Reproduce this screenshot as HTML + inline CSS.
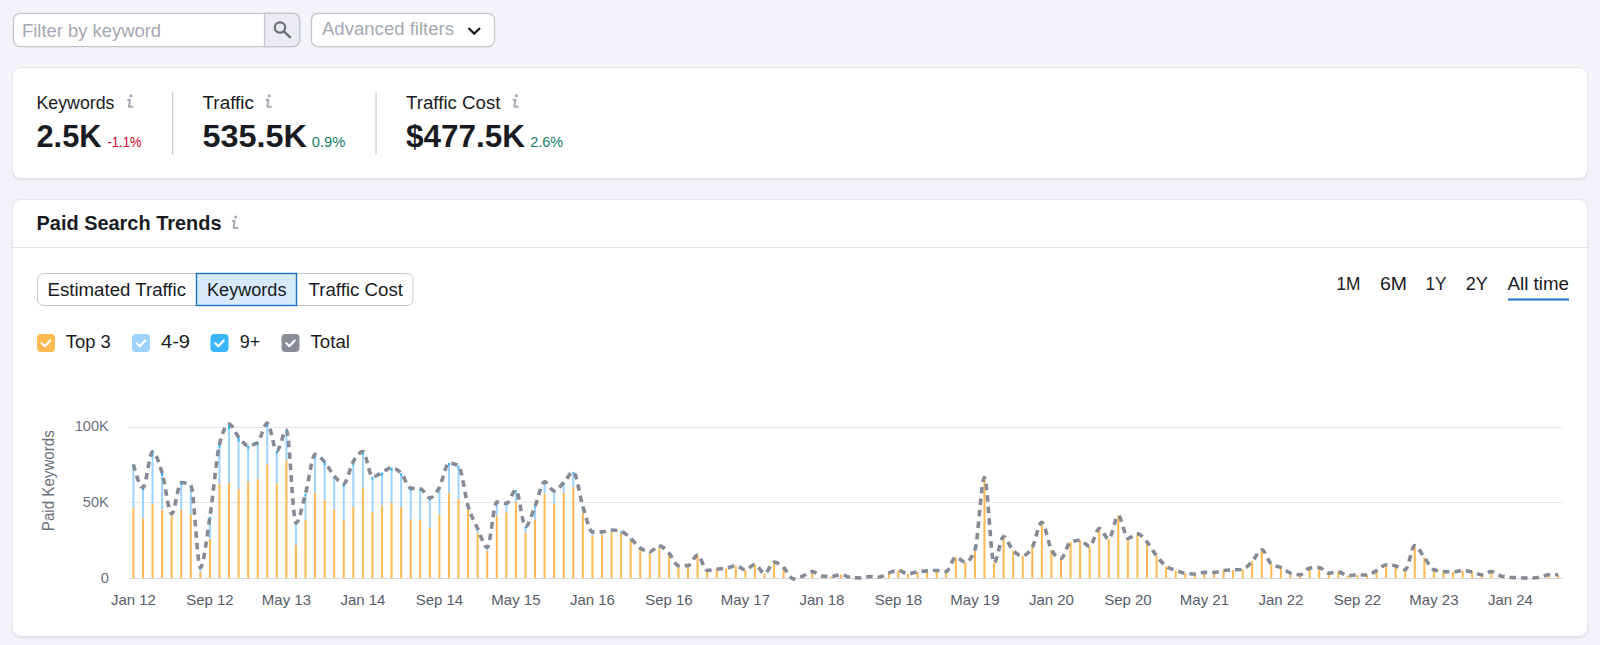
<!DOCTYPE html>
<html><head><meta charset="utf-8">
<style>
html,body{margin:0;padding:0;width:1600px;height:645px;overflow:hidden;background:#F3F4F8;font-family:"Liberation Sans",sans-serif;}
.card{position:absolute;left:12px;width:1576px;background:#fff;border-radius:9px;box-sizing:border-box;border:1px solid #E6E7EC;box-shadow:0 1px 2px rgba(25,27,35,0.10);}
</style></head><body>
<div class="card" style="top:67px;height:112px"></div>
<div class="card" style="top:199px;height:438px"></div>
<svg width="1600" height="645" style="position:absolute;left:0;top:0" font-family="Liberation Sans">
<!-- filter input -->
<rect x="13.4" y="13.3" width="286.2" height="33.4" rx="6.5" fill="#fff" stroke="#C2C5CD" stroke-width="1.25"/>
<path d="M264.5,13.3 H293.1 A6.5,6.5 0 0 1 299.6,19.8 V40.2 A6.5,6.5 0 0 1 293.1,46.7 H264.5 Z" fill="#EBECF0" stroke="#C2C5CD" stroke-width="1.25"/>
<text x="22" y="36.5" font-size="17.5" fill="#A5A8B2" textLength="139" lengthAdjust="spacingAndGlyphs">Filter by keyword</text>
<circle cx="280" cy="27.5" r="5.2" fill="none" stroke="#6C707B" stroke-width="2.2"/>
<line x1="283.8" y1="31.3" x2="290" y2="37.2" stroke="#6C707B" stroke-width="2.4" stroke-linecap="round"/>
<!-- advanced filters -->
<rect x="311.5" y="13.3" width="183" height="33.4" rx="6.5" fill="#fff" stroke="#C2C5CD" stroke-width="1.25"/>
<text x="322" y="35" font-size="17.5" fill="#A5A8B2" textLength="132" lengthAdjust="spacingAndGlyphs">Advanced filters</text>
<path d="M468.5,28 L474.2,33.6 L480,28" fill="none" stroke="#191B23" stroke-width="2.2"/>

<!-- card 1 -->
<text x="36.5" y="109" font-size="17.5" fill="#191B23" textLength="78" lengthAdjust="spacingAndGlyphs">Keywords</text>
<defs><g id="ic"><path d="M0,0 H2.7 L1.7,7 H6.1" fill="none" stroke="#A6A9B3" stroke-width="2" stroke-linejoin="round"/><circle cx="3.7" cy="-3.9" r="1.6" fill="#A6A9B3"/></g></defs>
<use href="#ic" x="127.2" y="99.7"/><use href="#ic" x="265.6" y="99.7"/><use href="#ic" x="512.7" y="99.7"/><use href="#ic" x="231.9" y="220.9"/>
<text x="36.5" y="147.3" font-size="31.5" font-weight="700" fill="#191B23" textLength="65" lengthAdjust="spacingAndGlyphs">2.5K</text>
<text x="107.5" y="147.3" font-size="15" fill="#D1002F" textLength="34" lengthAdjust="spacingAndGlyphs">-1.1%</text>
<rect x="172" y="92" width="1.2" height="62.5" fill="#C5C8D0"/>
<text x="202.5" y="109" font-size="17.5" fill="#191B23" textLength="51.5" lengthAdjust="spacingAndGlyphs">Traffic</text>
<text x="202.5" y="147.3" font-size="31.5" font-weight="700" fill="#191B23" textLength="104.5" lengthAdjust="spacingAndGlyphs">535.5K</text>
<text x="311.8" y="147.3" font-size="15" fill="#137F68" textLength="33.5" lengthAdjust="spacingAndGlyphs">0.9%</text>
<rect x="375.5" y="92" width="1.2" height="62.5" fill="#C5C8D0"/>
<text x="406" y="109" font-size="17.5" fill="#191B23" textLength="94.5" lengthAdjust="spacingAndGlyphs">Traffic Cost</text>
<text x="406" y="147.3" font-size="31.5" font-weight="700" fill="#191B23" textLength="119" lengthAdjust="spacingAndGlyphs">$477.5K</text>
<text x="530.2" y="147.3" font-size="15" fill="#137F68" textLength="33" lengthAdjust="spacingAndGlyphs">2.6%</text>

<!-- card 2 header -->
<text x="36.5" y="229.8" font-size="20" font-weight="700" fill="#191B23" textLength="185" lengthAdjust="spacingAndGlyphs">Paid Search Trends</text>
<rect x="12" y="247" width="1576" height="1" fill="#E3E4E9"/>

<!-- segmented control -->
<rect x="37.5" y="273.5" width="375.5" height="32" rx="6" fill="#fff" stroke="#C5C8D0"/>
<rect x="196.5" y="273.5" width="100" height="32" fill="#D7EAFB" stroke="#1D71C9" stroke-width="1.4"/>
<text x="47.5" y="295.5" font-size="17.5" fill="#191B23" textLength="138.5" lengthAdjust="spacingAndGlyphs">Estimated Traffic</text>
<text x="207" y="295.5" font-size="17.5" fill="#191B23" textLength="79.5" lengthAdjust="spacingAndGlyphs">Keywords</text>
<text x="308.5" y="295.5" font-size="17.5" fill="#191B23" textLength="94.5" lengthAdjust="spacingAndGlyphs">Traffic Cost</text>

<!-- legend -->
<g>
<rect x="37" y="334" width="18" height="18" rx="4" fill="#FFBA52"/>
<rect x="132" y="334" width="18" height="18" rx="4" fill="#9ED3FF"/>
<rect x="210.5" y="334" width="18" height="18" rx="4" fill="#3AB6FF"/>
<rect x="281.5" y="334" width="18" height="18" rx="4" fill="#898D98"/>
<g fill="none" stroke="#fff" stroke-width="2.2" stroke-linecap="round" stroke-linejoin="round">
<path d="M41.8,343.2 L44.8,346.2 L50.2,340.6"/>
<path d="M136.8,343.2 L139.8,346.2 L145.2,340.6"/>
<path d="M215.3,343.2 L218.3,346.2 L223.7,340.6"/>
<path d="M286.3,343.2 L289.3,346.2 L294.7,340.6"/>
</g>
</g>
<text x="65.8" y="347.6" font-size="17.5" fill="#191B23" textLength="45" lengthAdjust="spacingAndGlyphs">Top 3</text>
<text x="161" y="347.6" font-size="17.5" fill="#191B23" textLength="29" lengthAdjust="spacingAndGlyphs">4-9</text>
<text x="239.8" y="347.6" font-size="17.5" fill="#191B23" textLength="20.5" lengthAdjust="spacingAndGlyphs">9+</text>
<text x="310.5" y="347.6" font-size="17.5" fill="#191B23" textLength="39.5" lengthAdjust="spacingAndGlyphs">Total</text>

<!-- time range -->
<g font-size="17.5" fill="#191B23">
<text x="1336.5" y="289.9" textLength="24" lengthAdjust="spacingAndGlyphs">1M</text>
<text x="1380" y="289.9" textLength="27" lengthAdjust="spacingAndGlyphs">6M</text>
<text x="1425.5" y="289.9" textLength="21" lengthAdjust="spacingAndGlyphs">1Y</text>
<text x="1465.8" y="289.9" textLength="22" lengthAdjust="spacingAndGlyphs">2Y</text>
<text x="1507.5" y="289.9" textLength="61.5" lengthAdjust="spacingAndGlyphs">All time</text>
</g>
<rect x="1508" y="298.5" width="61" height="2" fill="#1D71C9"/>
</svg>
<svg width="1600" height="645" style="position:absolute;left:0;top:0">
<g stroke-width="1" shape-rendering="crispEdges">
<line x1="129" y1="427.5" x2="1563" y2="427.5" stroke="#E6E7EC"/>
<line x1="129" y1="502.5" x2="1563" y2="502.5" stroke="#E6E7EC"/>
<line x1="129" y1="578.5" x2="1563" y2="578.5" stroke="#D5D8DF"/>
</g>
<g font-family="Liberation Sans" font-size="14.6" fill="#6B6F7B" text-anchor="end">
<text x="108.8" y="431">100K</text><text x="108.8" y="507">50K</text><text x="108.8" y="583">0</text>
</g>
<text transform="translate(53.6,480.7) rotate(-90)" text-anchor="middle" font-family="Liberation Sans" font-size="15.6" fill="#6B6F7B" textLength="101" lengthAdjust="spacingAndGlyphs">Paid Keywords</text>
<g font-family="Liberation Sans" font-size="15" fill="#575C69"><text x="133.40" y="605" text-anchor="middle">Jan 12</text><text x="209.90" y="605" text-anchor="middle">Sep 12</text><text x="286.40" y="605" text-anchor="middle">May 13</text><text x="362.90" y="605" text-anchor="middle">Jan 14</text><text x="439.40" y="605" text-anchor="middle">Sep 14</text><text x="515.90" y="605" text-anchor="middle">May 15</text><text x="592.40" y="605" text-anchor="middle">Jan 16</text><text x="668.90" y="605" text-anchor="middle">Sep 16</text><text x="745.40" y="605" text-anchor="middle">May 17</text><text x="821.90" y="605" text-anchor="middle">Jan 18</text><text x="898.40" y="605" text-anchor="middle">Sep 18</text><text x="974.90" y="605" text-anchor="middle">May 19</text><text x="1051.40" y="605" text-anchor="middle">Jan 20</text><text x="1127.90" y="605" text-anchor="middle">Sep 20</text><text x="1204.40" y="605" text-anchor="middle">May 21</text><text x="1280.90" y="605" text-anchor="middle">Jan 22</text><text x="1357.40" y="605" text-anchor="middle">Sep 22</text><text x="1433.90" y="605" text-anchor="middle">May 23</text><text x="1510.40" y="605" text-anchor="middle">Jan 24</text></g>
<g><rect x="132.40" y="507.63" width="2" height="70.37" fill="#FDB94F"/><rect x="132.40" y="468.28" width="2" height="39.34" fill="#9FD3FF"/><rect x="132.40" y="464.39" width="2" height="3.89" fill="#2BB3FF"/><rect x="141.96" y="518.23" width="2" height="59.77" fill="#FDB94F"/><rect x="141.96" y="490.31" width="2" height="27.92" fill="#9FD3FF"/><rect x="141.96" y="487.55" width="2" height="2.76" fill="#2BB3FF"/><rect x="151.53" y="504.00" width="2" height="74.00" fill="#FDB94F"/><rect x="151.53" y="456.54" width="2" height="47.47" fill="#9FD3FF"/><rect x="151.53" y="451.84" width="2" height="4.69" fill="#2BB3FF"/><rect x="161.09" y="509.58" width="2" height="68.42" fill="#FDB94F"/><rect x="161.09" y="476.08" width="2" height="33.51" fill="#9FD3FF"/><rect x="161.09" y="472.76" width="2" height="3.31" fill="#2BB3FF"/><rect x="170.65" y="515.44" width="2" height="62.56" fill="#FDB94F"/><rect x="170.65" y="515.27" width="2" height="0.17" fill="#9FD3FF"/><rect x="170.65" y="513.77" width="2" height="1.50" fill="#2BB3FF"/><rect x="180.21" y="509.86" width="2" height="68.14" fill="#FDB94F"/><rect x="180.21" y="484.98" width="2" height="24.88" fill="#9FD3FF"/><rect x="180.21" y="482.52" width="2" height="2.46" fill="#2BB3FF"/><rect x="189.78" y="514.32" width="2" height="63.68" fill="#FDB94F"/><rect x="189.78" y="487.92" width="2" height="26.40" fill="#9FD3FF"/><rect x="189.78" y="485.31" width="2" height="2.61" fill="#2BB3FF"/><rect x="199.34" y="571.79" width="2" height="6.21" fill="#FDB94F"/><rect x="199.34" y="569.10" width="2" height="2.68" fill="#9FD3FF"/><rect x="199.34" y="567.60" width="2" height="1.50" fill="#2BB3FF"/><rect x="208.90" y="538.87" width="2" height="39.13" fill="#FDB94F"/><rect x="208.90" y="518.82" width="2" height="20.05" fill="#9FD3FF"/><rect x="208.90" y="516.83" width="2" height="1.98" fill="#2BB3FF"/><rect x="218.46" y="483.92" width="2" height="94.08" fill="#FDB94F"/><rect x="218.46" y="448.23" width="2" height="35.69" fill="#9FD3FF"/><rect x="218.46" y="444.70" width="2" height="3.53" fill="#2BB3FF"/><rect x="228.03" y="482.52" width="2" height="95.48" fill="#FDB94F"/><rect x="228.03" y="429.36" width="2" height="53.17" fill="#9FD3FF"/><rect x="228.03" y="424.10" width="2" height="5.26" fill="#2BB3FF"/><rect x="237.59" y="488.94" width="2" height="89.06" fill="#FDB94F"/><rect x="237.59" y="441.86" width="2" height="47.08" fill="#9FD3FF"/><rect x="237.59" y="437.20" width="2" height="4.66" fill="#2BB3FF"/><rect x="247.15" y="481.97" width="2" height="96.03" fill="#FDB94F"/><rect x="247.15" y="448.96" width="2" height="33.00" fill="#9FD3FF"/><rect x="247.15" y="445.70" width="2" height="3.26" fill="#2BB3FF"/><rect x="256.71" y="478.90" width="2" height="99.10" fill="#FDB94F"/><rect x="256.71" y="445.50" width="2" height="33.40" fill="#9FD3FF"/><rect x="256.71" y="442.20" width="2" height="3.30" fill="#2BB3FF"/><rect x="266.27" y="464.39" width="2" height="113.61" fill="#FDB94F"/><rect x="266.27" y="426.82" width="2" height="37.58" fill="#9FD3FF"/><rect x="266.27" y="423.10" width="2" height="3.72" fill="#2BB3FF"/><rect x="275.84" y="483.36" width="2" height="94.64" fill="#FDB94F"/><rect x="275.84" y="453.73" width="2" height="29.63" fill="#9FD3FF"/><rect x="275.84" y="450.80" width="2" height="2.93" fill="#2BB3FF"/><rect x="285.40" y="460.21" width="2" height="117.79" fill="#FDB94F"/><rect x="285.40" y="432.81" width="2" height="27.40" fill="#9FD3FF"/><rect x="285.40" y="430.10" width="2" height="2.71" fill="#2BB3FF"/><rect x="294.96" y="544.73" width="2" height="33.27" fill="#FDB94F"/><rect x="294.96" y="524.93" width="2" height="19.80" fill="#9FD3FF"/><rect x="294.96" y="522.97" width="2" height="1.96" fill="#2BB3FF"/><rect x="304.52" y="519.62" width="2" height="58.38" fill="#FDB94F"/><rect x="304.52" y="496.02" width="2" height="23.61" fill="#9FD3FF"/><rect x="304.52" y="493.68" width="2" height="2.33" fill="#2BB3FF"/><rect x="314.09" y="492.85" width="2" height="85.15" fill="#FDB94F"/><rect x="314.09" y="457.86" width="2" height="34.99" fill="#9FD3FF"/><rect x="314.09" y="454.40" width="2" height="3.46" fill="#2BB3FF"/><rect x="323.65" y="499.82" width="2" height="78.18" fill="#FDB94F"/><rect x="323.65" y="465.49" width="2" height="34.32" fill="#9FD3FF"/><rect x="323.65" y="462.10" width="2" height="3.39" fill="#2BB3FF"/><rect x="333.21" y="509.02" width="2" height="68.98" fill="#FDB94F"/><rect x="333.21" y="478.97" width="2" height="30.05" fill="#9FD3FF"/><rect x="333.21" y="476.00" width="2" height="2.97" fill="#2BB3FF"/><rect x="342.77" y="520.18" width="2" height="57.82" fill="#FDB94F"/><rect x="342.77" y="486.98" width="2" height="33.20" fill="#9FD3FF"/><rect x="342.77" y="483.70" width="2" height="3.28" fill="#2BB3FF"/><rect x="352.34" y="507.07" width="2" height="70.93" fill="#FDB94F"/><rect x="352.34" y="465.51" width="2" height="41.56" fill="#9FD3FF"/><rect x="352.34" y="461.40" width="2" height="4.11" fill="#2BB3FF"/><rect x="361.90" y="487.55" width="2" height="90.45" fill="#FDB94F"/><rect x="361.90" y="454.84" width="2" height="32.71" fill="#9FD3FF"/><rect x="361.90" y="451.60" width="2" height="3.24" fill="#2BB3FF"/><rect x="371.46" y="511.81" width="2" height="66.19" fill="#FDB94F"/><rect x="371.46" y="479.86" width="2" height="31.95" fill="#9FD3FF"/><rect x="371.46" y="476.70" width="2" height="3.16" fill="#2BB3FF"/><rect x="381.02" y="505.40" width="2" height="72.60" fill="#FDB94F"/><rect x="381.02" y="475.55" width="2" height="29.85" fill="#9FD3FF"/><rect x="381.02" y="472.60" width="2" height="2.95" fill="#2BB3FF"/><rect x="390.59" y="502.89" width="2" height="75.11" fill="#FDB94F"/><rect x="390.59" y="470.87" width="2" height="32.02" fill="#9FD3FF"/><rect x="390.59" y="467.70" width="2" height="3.17" fill="#2BB3FF"/><rect x="400.15" y="507.07" width="2" height="70.93" fill="#FDB94F"/><rect x="400.15" y="476.34" width="2" height="30.73" fill="#9FD3FF"/><rect x="400.15" y="473.30" width="2" height="3.04" fill="#2BB3FF"/><rect x="409.71" y="519.34" width="2" height="58.66" fill="#FDB94F"/><rect x="409.71" y="490.91" width="2" height="28.43" fill="#9FD3FF"/><rect x="409.71" y="488.10" width="2" height="2.81" fill="#2BB3FF"/><rect x="419.27" y="519.62" width="2" height="58.38" fill="#FDB94F"/><rect x="419.27" y="491.57" width="2" height="28.05" fill="#9FD3FF"/><rect x="419.27" y="488.80" width="2" height="2.77" fill="#2BB3FF"/><rect x="428.84" y="527.71" width="2" height="50.29" fill="#FDB94F"/><rect x="428.84" y="500.58" width="2" height="27.13" fill="#9FD3FF"/><rect x="428.84" y="497.90" width="2" height="2.68" fill="#2BB3FF"/><rect x="438.40" y="514.60" width="2" height="63.40" fill="#FDB94F"/><rect x="438.40" y="489.85" width="2" height="24.75" fill="#9FD3FF"/><rect x="438.40" y="487.40" width="2" height="2.45" fill="#2BB3FF"/><rect x="447.96" y="492.85" width="2" height="85.15" fill="#FDB94F"/><rect x="447.96" y="465.69" width="2" height="27.16" fill="#9FD3FF"/><rect x="447.96" y="463.00" width="2" height="2.69" fill="#2BB3FF"/><rect x="457.52" y="498.70" width="2" height="79.30" fill="#FDB94F"/><rect x="457.52" y="468.76" width="2" height="29.94" fill="#9FD3FF"/><rect x="457.52" y="465.80" width="2" height="2.96" fill="#2BB3FF"/><rect x="467.09" y="508.40" width="2" height="69.60" fill="#FDB94F"/><rect x="467.09" y="507.80" width="2" height="0.60" fill="#9FD3FF"/><rect x="467.09" y="506.30" width="2" height="1.50" fill="#2BB3FF"/><rect x="476.65" y="532.73" width="2" height="45.27" fill="#FDB94F"/><rect x="476.65" y="530.05" width="2" height="2.68" fill="#9FD3FF"/><rect x="476.65" y="528.55" width="2" height="1.50" fill="#2BB3FF"/><rect x="486.21" y="550.86" width="2" height="27.14" fill="#FDB94F"/><rect x="486.21" y="549.02" width="2" height="1.85" fill="#9FD3FF"/><rect x="486.21" y="547.52" width="2" height="1.50" fill="#2BB3FF"/><rect x="495.77" y="515.44" width="2" height="62.56" fill="#FDB94F"/><rect x="495.77" y="503.60" width="2" height="11.84" fill="#9FD3FF"/><rect x="495.77" y="502.10" width="2" height="1.50" fill="#2BB3FF"/><rect x="505.34" y="512.37" width="2" height="65.63" fill="#FDB94F"/><rect x="505.34" y="505.00" width="2" height="7.37" fill="#9FD3FF"/><rect x="505.34" y="503.50" width="2" height="1.50" fill="#2BB3FF"/><rect x="514.90" y="502.05" width="2" height="75.95" fill="#FDB94F"/><rect x="514.90" y="491.70" width="2" height="10.35" fill="#9FD3FF"/><rect x="514.90" y="490.20" width="2" height="1.50" fill="#2BB3FF"/><rect x="524.46" y="532.73" width="2" height="45.27" fill="#FDB94F"/><rect x="524.46" y="528.10" width="2" height="4.64" fill="#9FD3FF"/><rect x="524.46" y="526.60" width="2" height="1.50" fill="#2BB3FF"/><rect x="534.02" y="519.34" width="2" height="58.66" fill="#FDB94F"/><rect x="534.02" y="507.73" width="2" height="11.61" fill="#9FD3FF"/><rect x="534.02" y="506.23" width="2" height="1.50" fill="#2BB3FF"/><rect x="543.59" y="493.68" width="2" height="84.32" fill="#FDB94F"/><rect x="543.59" y="483.40" width="2" height="10.28" fill="#9FD3FF"/><rect x="543.59" y="481.90" width="2" height="1.50" fill="#2BB3FF"/><rect x="553.15" y="504.00" width="2" height="74.00" fill="#FDB94F"/><rect x="553.15" y="492.39" width="2" height="11.61" fill="#9FD3FF"/><rect x="553.15" y="490.89" width="2" height="1.50" fill="#2BB3FF"/><rect x="562.71" y="492.85" width="2" height="85.15" fill="#FDB94F"/><rect x="562.71" y="484.10" width="2" height="8.75" fill="#9FD3FF"/><rect x="562.71" y="482.60" width="2" height="1.50" fill="#2BB3FF"/><rect x="572.27" y="486.71" width="2" height="91.29" fill="#FDB94F"/><rect x="572.27" y="473.42" width="2" height="13.28" fill="#9FD3FF"/><rect x="572.27" y="471.92" width="2" height="1.50" fill="#2BB3FF"/><rect x="581.84" y="512.65" width="2" height="65.35" fill="#FDB94F"/><rect x="581.84" y="507.73" width="2" height="4.92" fill="#9FD3FF"/><rect x="581.84" y="506.23" width="2" height="1.50" fill="#2BB3FF"/><rect x="591.40" y="535.52" width="2" height="42.48" fill="#FDB94F"/><rect x="591.40" y="533.40" width="2" height="2.13" fill="#9FD3FF"/><rect x="591.40" y="531.90" width="2" height="1.50" fill="#2BB3FF"/><rect x="600.96" y="534.69" width="2" height="43.31" fill="#FDB94F"/><rect x="600.96" y="533.40" width="2" height="1.29" fill="#9FD3FF"/><rect x="600.96" y="531.90" width="2" height="1.50" fill="#2BB3FF"/><rect x="610.52" y="531.90" width="2" height="46.10" fill="#FDB94F"/><rect x="610.52" y="531.44" width="2" height="0.45" fill="#9FD3FF"/><rect x="610.52" y="529.94" width="2" height="1.50" fill="#2BB3FF"/><rect x="620.09" y="532.73" width="2" height="45.27" fill="#FDB94F"/><rect x="620.09" y="532.84" width="2" height="-0.11" fill="#9FD3FF"/><rect x="620.09" y="531.34" width="2" height="1.50" fill="#2BB3FF"/><rect x="629.65" y="539.71" width="2" height="38.29" fill="#FDB94F"/><rect x="629.65" y="539.81" width="2" height="-0.11" fill="#9FD3FF"/><rect x="629.65" y="538.31" width="2" height="1.50" fill="#2BB3FF"/><rect x="639.21" y="549.47" width="2" height="28.53" fill="#FDB94F"/><rect x="639.21" y="549.58" width="2" height="-0.11" fill="#9FD3FF"/><rect x="639.21" y="548.08" width="2" height="1.50" fill="#2BB3FF"/><rect x="648.77" y="552.26" width="2" height="25.74" fill="#FDB94F"/><rect x="648.77" y="553.20" width="2" height="-0.94" fill="#9FD3FF"/><rect x="648.77" y="551.70" width="2" height="1.50" fill="#2BB3FF"/><rect x="658.34" y="546.68" width="2" height="31.32" fill="#FDB94F"/><rect x="658.34" y="547.34" width="2" height="-0.66" fill="#9FD3FF"/><rect x="658.34" y="545.84" width="2" height="1.50" fill="#2BB3FF"/><rect x="667.90" y="553.65" width="2" height="24.35" fill="#FDB94F"/><rect x="667.90" y="554.60" width="2" height="-0.94" fill="#9FD3FF"/><rect x="667.90" y="553.10" width="2" height="1.50" fill="#2BB3FF"/><rect x="677.46" y="567.04" width="2" height="10.96" fill="#FDB94F"/><rect x="677.46" y="567.15" width="2" height="-0.11" fill="#9FD3FF"/><rect x="677.46" y="565.65" width="2" height="1.50" fill="#2BB3FF"/><rect x="687.02" y="566.21" width="2" height="11.79" fill="#FDB94F"/><rect x="687.02" y="567.15" width="2" height="-0.94" fill="#9FD3FF"/><rect x="687.02" y="565.65" width="2" height="1.50" fill="#2BB3FF"/><rect x="696.59" y="555.13" width="2" height="22.87" fill="#FDB94F"/><rect x="706.15" y="570.48" width="2" height="7.52" fill="#FDB94F"/><rect x="715.71" y="569.09" width="2" height="8.91" fill="#FDB94F"/><rect x="725.27" y="568.39" width="2" height="9.61" fill="#FDB94F"/><rect x="734.84" y="565.60" width="2" height="12.40" fill="#FDB94F"/><rect x="744.40" y="569.78" width="2" height="8.22" fill="#FDB94F"/><rect x="753.96" y="564.48" width="2" height="13.52" fill="#FDB94F"/><rect x="763.52" y="573.55" width="2" height="4.45" fill="#FDB94F"/><rect x="773.09" y="562.11" width="2" height="15.89" fill="#FDB94F"/><rect x="782.65" y="567.69" width="2" height="10.31" fill="#FDB94F"/><rect x="801.77" y="576.06" width="2" height="1.94" fill="#FDB94F"/><rect x="811.34" y="571.60" width="2" height="6.40" fill="#FDB94F"/><rect x="820.90" y="576.06" width="2" height="1.94" fill="#FDB94F"/><rect x="830.46" y="576.48" width="2" height="1.52" fill="#FDB94F"/><rect x="840.02" y="574.67" width="2" height="3.33" fill="#FDB94F"/><rect x="849.59" y="577.46" width="2" height="0.54" fill="#FDB94F"/><rect x="868.71" y="576.48" width="2" height="1.52" fill="#FDB94F"/><rect x="878.27" y="577.04" width="2" height="0.96" fill="#FDB94F"/><rect x="887.84" y="572.90" width="2" height="5.10" fill="#FDB94F"/><rect x="897.40" y="570.48" width="2" height="7.52" fill="#FDB94F"/><rect x="906.96" y="573.91" width="2" height="4.09" fill="#FDB94F"/><rect x="916.52" y="571.90" width="2" height="6.10" fill="#FDB94F"/><rect x="926.09" y="570.89" width="2" height="7.11" fill="#FDB94F"/><rect x="935.65" y="570.48" width="2" height="7.52" fill="#FDB94F"/><rect x="945.21" y="571.49" width="2" height="6.51" fill="#FDB94F"/><rect x="954.77" y="557.18" width="2" height="20.82" fill="#FDB94F"/><rect x="964.34" y="562.22" width="2" height="15.78" fill="#FDB94F"/><rect x="973.90" y="550.12" width="2" height="27.88" fill="#FDB94F"/><rect x="983.46" y="477.54" width="2" height="100.46" fill="#FDB94F"/><rect x="993.02" y="562.82" width="2" height="15.18" fill="#FDB94F"/><rect x="1002.59" y="536.60" width="2" height="41.40" fill="#FDB94F"/><rect x="1012.15" y="550.73" width="2" height="27.27" fill="#FDB94F"/><rect x="1021.71" y="555.77" width="2" height="22.23" fill="#FDB94F"/><rect x="1031.28" y="547.10" width="2" height="30.90" fill="#FDB94F"/><rect x="1040.84" y="522.30" width="2" height="55.70" fill="#FDB94F"/><rect x="1050.40" y="549.72" width="2" height="28.28" fill="#FDB94F"/><rect x="1059.96" y="558.39" width="2" height="19.61" fill="#FDB94F"/><rect x="1069.53" y="541.94" width="2" height="36.06" fill="#FDB94F"/><rect x="1079.09" y="540.30" width="2" height="37.70" fill="#FDB94F"/><rect x="1088.65" y="546.50" width="2" height="31.50" fill="#FDB94F"/><rect x="1098.21" y="528.50" width="2" height="49.50" fill="#FDB94F"/><rect x="1107.78" y="539.00" width="2" height="39.00" fill="#FDB94F"/><rect x="1117.34" y="515.58" width="2" height="62.42" fill="#FDB94F"/><rect x="1126.90" y="538.40" width="2" height="39.60" fill="#FDB94F"/><rect x="1136.46" y="533.88" width="2" height="44.12" fill="#FDB94F"/><rect x="1146.03" y="542.00" width="2" height="36.00" fill="#FDB94F"/><rect x="1155.59" y="555.89" width="2" height="22.11" fill="#FDB94F"/><rect x="1165.15" y="566.28" width="2" height="11.72" fill="#FDB94F"/><rect x="1174.71" y="570.31" width="2" height="7.69" fill="#FDB94F"/><rect x="1184.28" y="573.41" width="2" height="4.59" fill="#FDB94F"/><rect x="1193.84" y="574.00" width="2" height="4.00" fill="#FDB94F"/><rect x="1203.40" y="572.40" width="2" height="5.60" fill="#FDB94F"/><rect x="1212.96" y="572.40" width="2" height="5.60" fill="#FDB94F"/><rect x="1222.53" y="570.62" width="2" height="7.38" fill="#FDB94F"/><rect x="1232.09" y="569.84" width="2" height="8.16" fill="#FDB94F"/><rect x="1241.65" y="569.38" width="2" height="8.62" fill="#FDB94F"/><rect x="1251.21" y="561.32" width="2" height="16.68" fill="#FDB94F"/><rect x="1260.78" y="549.75" width="2" height="28.25" fill="#FDB94F"/><rect x="1270.34" y="564.00" width="2" height="14.00" fill="#FDB94F"/><rect x="1279.90" y="567.50" width="2" height="10.50" fill="#FDB94F"/><rect x="1289.46" y="573.12" width="2" height="4.88" fill="#FDB94F"/><rect x="1299.03" y="574.75" width="2" height="3.25" fill="#FDB94F"/><rect x="1308.59" y="568.12" width="2" height="9.88" fill="#FDB94F"/><rect x="1318.15" y="567.50" width="2" height="10.50" fill="#FDB94F"/><rect x="1327.71" y="573.12" width="2" height="4.88" fill="#FDB94F"/><rect x="1337.28" y="571.88" width="2" height="6.12" fill="#FDB94F"/><rect x="1346.84" y="575.62" width="2" height="2.38" fill="#FDB94F"/><rect x="1356.40" y="575.00" width="2" height="3.00" fill="#FDB94F"/><rect x="1365.96" y="575.00" width="2" height="3.00" fill="#FDB94F"/><rect x="1375.53" y="570.62" width="2" height="7.38" fill="#FDB94F"/><rect x="1385.09" y="564.75" width="2" height="13.25" fill="#FDB94F"/><rect x="1394.65" y="566.00" width="2" height="12.00" fill="#FDB94F"/><rect x="1404.21" y="569.75" width="2" height="8.25" fill="#FDB94F"/><rect x="1413.78" y="545.62" width="2" height="32.38" fill="#FDB94F"/><rect x="1423.34" y="557.50" width="2" height="20.50" fill="#FDB94F"/><rect x="1432.90" y="569.75" width="2" height="8.25" fill="#FDB94F"/><rect x="1442.46" y="571.50" width="2" height="6.50" fill="#FDB94F"/><rect x="1452.03" y="571.88" width="2" height="6.12" fill="#FDB94F"/><rect x="1461.59" y="570.47" width="2" height="7.53" fill="#FDB94F"/><rect x="1471.15" y="571.88" width="2" height="6.12" fill="#FDB94F"/><rect x="1480.71" y="574.81" width="2" height="3.19" fill="#FDB94F"/><rect x="1490.28" y="571.55" width="2" height="6.45" fill="#FDB94F"/><rect x="1499.84" y="575.89" width="2" height="2.11" fill="#FDB94F"/><rect x="1509.40" y="577.52" width="2" height="0.48" fill="#FDB94F"/><rect x="1538.09" y="577.52" width="2" height="0.48" fill="#FDB94F"/><rect x="1547.65" y="574.81" width="2" height="3.19" fill="#FDB94F"/><rect x="1557.21" y="574.81" width="2" height="3.19" fill="#FDB94F"/></g>
<path d="M133.40,464.39 C136.59,475.97 139.78,487.55 142.96,487.55 C146.15,487.55 149.34,451.84 152.53,451.84 C155.71,451.84 158.90,462.44 162.09,472.76 C165.28,483.08 168.46,513.77 171.65,513.77 C174.84,513.77 178.03,482.52 181.21,482.52 C184.40,482.52 187.59,483.45 190.78,485.31 C193.96,487.17 197.15,567.60 200.34,567.60 C203.53,567.60 206.71,537.32 209.90,516.83 C213.09,496.35 216.28,458.43 219.46,444.70 C222.65,430.97 225.84,424.10 229.03,424.10 C232.21,424.10 235.40,433.60 238.59,437.20 C241.78,440.80 244.96,445.70 248.15,445.70 C251.34,445.70 254.52,444.53 257.71,442.20 C260.90,439.87 264.09,423.10 267.27,423.10 C270.46,423.10 273.65,450.80 276.84,450.80 C280.02,450.80 283.21,430.10 286.40,430.10 C289.59,430.10 292.77,522.97 295.96,522.97 C299.15,522.97 302.34,505.11 305.52,493.68 C308.71,482.25 311.90,454.40 315.09,454.40 C318.27,454.40 321.46,458.50 324.65,462.10 C327.84,465.70 331.02,472.40 334.21,476.00 C337.40,479.60 340.59,483.70 343.77,483.70 C346.96,483.70 350.15,466.75 353.34,461.40 C356.52,456.05 359.71,451.60 362.90,451.60 C366.09,451.60 369.27,476.70 372.46,476.70 C375.65,476.70 378.84,474.10 382.02,472.60 C385.21,471.10 388.40,467.70 391.59,467.70 C394.77,467.70 397.96,469.90 401.15,473.30 C404.34,476.70 407.52,487.63 410.71,488.10 C413.90,488.57 417.09,488.33 420.27,488.80 C423.46,489.27 426.65,497.90 429.84,497.90 C433.02,497.90 436.21,493.22 439.40,487.40 C442.59,481.58 445.77,463.00 448.96,463.00 C452.15,463.00 455.34,463.93 458.52,465.80 C461.71,467.67 464.90,495.84 468.09,506.30 C471.27,516.76 474.46,521.68 477.65,528.55 C480.84,535.42 484.02,547.52 487.21,547.52 C490.40,547.52 493.59,502.10 496.77,502.10 C499.96,502.10 503.15,503.50 506.34,503.50 C509.52,503.50 512.71,490.20 515.90,490.20 C519.09,490.20 522.27,526.60 525.46,526.60 C528.65,526.60 531.84,513.68 535.02,506.23 C538.21,498.78 541.40,481.90 544.59,481.90 C547.77,481.90 550.96,490.89 554.15,490.89 C557.34,490.89 560.52,485.76 563.71,482.60 C566.90,479.44 570.09,471.92 573.27,471.92 C576.46,471.92 579.65,496.24 582.84,506.23 C586.02,516.23 589.21,531.90 592.40,531.90 C595.59,531.90 598.77,531.90 601.96,531.90 C605.15,531.90 608.34,529.94 611.52,529.94 C614.71,529.94 617.90,530.41 621.09,531.34 C624.27,532.27 627.46,535.52 630.65,538.31 C633.84,541.10 637.02,545.84 640.21,548.08 C643.40,550.31 646.59,551.70 649.77,551.70 C652.96,551.70 656.15,545.84 659.34,545.84 C662.52,545.84 665.71,549.80 668.90,553.10 C672.09,556.40 675.27,565.65 678.46,565.65 C681.65,565.65 684.84,565.65 688.02,565.65 C691.21,565.65 694.40,555.13 697.59,555.13 C700.77,555.13 703.96,570.48 707.15,570.48 C710.34,570.48 713.52,569.43 716.71,569.09 C719.90,568.74 723.09,568.85 726.27,568.39 C729.46,567.92 732.65,565.60 735.84,565.60 C739.02,565.60 742.21,569.78 745.40,569.78 C748.59,569.78 751.77,564.48 754.96,564.48 C758.15,564.48 761.34,573.55 764.52,573.55 C767.71,573.55 770.90,562.11 774.09,562.11 C777.27,562.11 780.46,564.90 783.65,567.69 C786.84,570.48 790.02,578.86 793.21,578.86 C796.40,578.86 799.59,577.27 802.77,576.06 C805.96,574.85 809.15,571.60 812.34,571.60 C815.52,571.60 818.71,575.79 821.90,576.06 C825.09,576.34 828.27,576.48 831.46,576.48 C834.65,576.48 837.84,574.67 841.02,574.67 C844.21,574.67 847.40,577.18 850.59,577.46 C853.77,577.74 856.96,577.88 860.15,577.88 C863.34,577.88 866.52,576.48 869.71,576.48 C872.90,576.48 876.09,577.04 879.27,577.04 C882.46,577.04 885.65,574.00 888.84,572.90 C892.02,571.81 895.21,570.48 898.40,570.48 C901.59,570.48 904.77,573.91 907.96,573.91 C911.15,573.91 914.34,572.40 917.52,571.90 C920.71,571.39 923.90,571.12 927.09,570.89 C930.27,570.65 933.46,570.48 936.65,570.48 C939.84,570.48 943.02,571.49 946.21,571.49 C949.40,571.49 952.59,557.18 955.77,557.18 C958.96,557.18 962.15,562.22 965.34,562.22 C968.52,562.22 971.71,558.19 974.90,550.12 C978.09,542.06 981.27,477.54 984.46,477.54 C987.65,477.54 990.84,562.82 994.02,562.82 C997.21,562.82 1000.40,536.60 1003.59,536.60 C1006.77,536.60 1009.96,547.53 1013.15,550.73 C1016.34,553.92 1019.52,555.77 1022.71,555.77 C1025.90,555.77 1029.09,552.67 1032.28,547.10 C1035.46,541.52 1038.65,522.30 1041.84,522.30 C1045.03,522.30 1048.21,543.94 1051.40,549.72 C1054.59,555.50 1057.78,558.39 1060.96,558.39 C1064.15,558.39 1067.34,543.03 1070.53,541.94 C1073.71,540.85 1076.90,540.30 1080.09,540.30 C1083.28,540.30 1086.46,546.50 1089.65,546.50 C1092.84,546.50 1096.03,528.50 1099.21,528.50 C1102.40,528.50 1105.59,539.00 1108.78,539.00 C1111.96,539.00 1115.15,515.58 1118.34,515.58 C1121.53,515.58 1124.71,538.40 1127.90,538.40 C1131.09,538.40 1134.28,533.88 1137.46,533.88 C1140.65,533.88 1143.84,538.33 1147.03,542.00 C1150.21,545.67 1153.40,551.84 1156.59,555.89 C1159.78,559.94 1162.96,563.88 1166.15,566.28 C1169.34,568.68 1172.53,569.12 1175.71,570.31 C1178.90,571.50 1182.09,573.02 1185.28,573.41 C1188.46,573.80 1191.65,574.00 1194.84,574.00 C1198.03,574.00 1201.21,572.40 1204.40,572.40 C1207.59,572.40 1210.78,572.40 1213.96,572.40 C1217.15,572.40 1220.34,571.05 1223.53,570.62 C1226.71,570.19 1229.90,570.05 1233.09,569.84 C1236.28,569.64 1239.46,569.69 1242.65,569.38 C1245.84,569.07 1249.03,564.59 1252.21,561.32 C1255.40,558.05 1258.59,549.75 1261.78,549.75 C1264.96,549.75 1268.15,561.67 1271.34,564.00 C1274.53,566.33 1277.71,565.98 1280.90,567.50 C1284.09,569.02 1287.28,572.04 1290.46,573.12 C1293.65,574.21 1296.84,574.75 1300.03,574.75 C1303.21,574.75 1306.40,568.54 1309.59,568.12 C1312.78,567.71 1315.96,567.50 1319.15,567.50 C1322.34,567.50 1325.53,573.12 1328.71,573.12 C1331.90,573.12 1335.09,571.88 1338.28,571.88 C1341.46,571.88 1344.65,575.62 1347.84,575.62 C1351.03,575.62 1354.21,575.00 1357.40,575.00 C1360.59,575.00 1363.78,575.00 1366.96,575.00 C1370.15,575.00 1373.34,572.33 1376.53,570.62 C1379.71,568.92 1382.90,564.75 1386.09,564.75 C1389.28,564.75 1392.46,565.17 1395.65,566.00 C1398.84,566.83 1402.03,569.75 1405.21,569.75 C1408.40,569.75 1411.59,545.62 1414.78,545.62 C1417.96,545.62 1421.15,553.48 1424.34,557.50 C1427.53,561.52 1430.71,568.58 1433.90,569.75 C1437.09,570.92 1440.28,571.25 1443.46,571.50 C1446.65,571.75 1449.84,571.88 1453.03,571.88 C1456.21,571.88 1459.40,570.47 1462.59,570.47 C1465.78,570.47 1468.96,571.15 1472.15,571.88 C1475.34,572.60 1478.53,574.81 1481.71,574.81 C1484.90,574.81 1488.09,571.55 1491.28,571.55 C1494.46,571.55 1497.65,574.90 1500.84,575.89 C1504.03,576.89 1507.21,577.38 1510.40,577.52 C1513.59,577.67 1516.78,577.63 1519.96,577.74 C1523.15,577.85 1526.34,578.17 1529.53,578.17 C1532.71,578.17 1535.90,577.96 1539.09,577.52 C1542.28,577.09 1545.46,574.81 1548.65,574.81 C1551.84,574.81 1555.03,574.81 1558.21,574.81" fill="none" stroke="#858A96" stroke-width="3.6" stroke-dasharray="6.5 5"/>
</svg>
</body></html>
